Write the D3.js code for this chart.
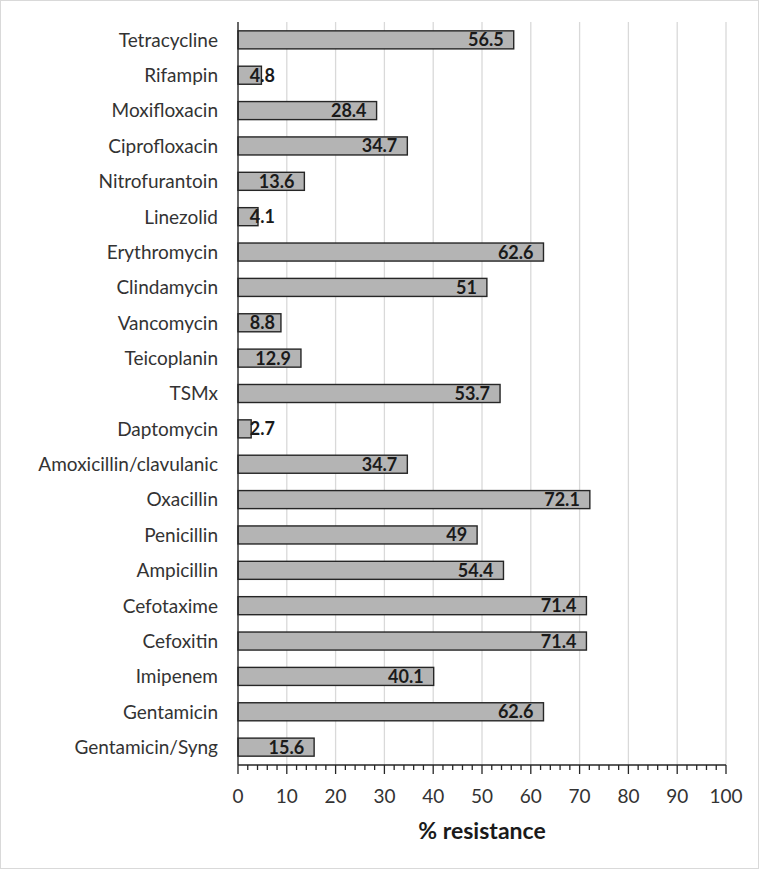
<!DOCTYPE html>
<html>
<head>
<meta charset="utf-8">
<script src="https://cdn.jsdelivr.net/npm/d3@7"></script>
<style>
  body { margin: 0; background: #fff; }
  svg { display: block; font-family: Lato, "Open Sans", sans-serif; }
</style>
</head>
<body>
<script>
// Data (top to bottom)
const drugs = ["Tetracycline", "Rifampin", "Moxifloxacin", "Ciprofloxacin", "Nitrofurantoin",
  "Linezolid", "Erythromycin", "Clindamycin", "Vancomycin", "Teicoplanin", "TSMx",
  "Daptomycin", "Amoxicillin/clavulanic", "Oxacillin", "Penicillin", "Ampicillin",
  "Cefotaxime", "Cefoxitin", "Imipenem", "Gentamicin", "Gentamicin/Syng"];
const resistance = [56.5, 4.8, 28.4, 34.7, 13.6, 4.1, 62.6, 51, 8.8, 12.9, 53.7,
  2.7, 34.7, 72.1, 49, 54.4, 71.4, 71.4, 40.1, 62.6, 15.6];
const xTicks = [0, 10, 20, 30, 40, 50, 60, 70, 80, 90, 100];

const W = 759, H = 869;
const margin = { top: 22, right: 33, bottom: 104, left: 238 };
const width = W - margin.left - margin.right,
      height = H - margin.top - margin.bottom;

const svgRoot = d3.select("body").append("svg")
    .attr("width", W)
    .attr("height", H);

// outer frame
svgRoot.append("rect")
    .attr("x", 0.5).attr("y", 0.5)
    .attr("width", W - 1).attr("height", H - 1)
    .attr("fill", "#fff").attr("stroke", "#d9d9d9");

const svg = svgRoot.append("g")
    .attr("transform", `translate(${margin.left},${margin.top})`);

const x = d3.scaleLinear().domain([0, 100]).range([0, width]);
const y = d3.scaleBand().domain(drugs).range([0, height]).paddingInner(0.49).paddingOuter(0.25);

// gridlines
svg.append("g")
    .selectAll("line")
    .data(xTicks.slice(1))
    .join("line")
    .attr("x1", d => x(d)).attr("x2", d => x(d))
    .attr("y1", 0).attr("y2", height)
    .attr("stroke", "#d9d9d9").attr("stroke-width", 1.3);

const data = drugs.map((d, i) => ({ name: d, value: resistance[i] }));

// bars
svg.append("g")
    .selectAll("rect")
    .data(data)
    .join("rect")
    .attr("x", x(0))
    .attr("y", d => y(d.name))
    .attr("width", d => x(d.value) - x(0))
    .attr("height", y.bandwidth())
    .attr("fill", "#b4b4b4")
    .attr("stroke", "#262626")
    .attr("stroke-width", 1.4);

// value labels (inside end; short bars keep a minimum position)
svg.append("g")
    .selectAll("text")
    .data(data)
    .join("text")
    .attr("x", d => Math.max(x(d.value) - 10, x(0) + 37))
    .attr("y", d => y(d.name) + y.bandwidth() / 2)
    .attr("dy", "0.36em")
    .attr("text-anchor", "end")
    .attr("font-size", 18)
    .attr("font-weight", "bold")
    .attr("fill", "#1a1a1a")
    .text(d => d.value);

// y labels
svg.append("g")
    .selectAll("text")
    .data(drugs)
    .join("text")
    .attr("x", -20)
    .attr("y", d => y(d) + y.bandwidth() / 2)
    .attr("dy", "0.36em")
    .attr("text-anchor", "end")
    .attr("font-size", 19)
    .attr("fill", "#333")
    .text(d => d);

// y axis line
svg.append("line")
    .attr("x1", 0).attr("x2", 0).attr("y1", 0).attr("y2", height)
    .attr("stroke", "#262626").attr("stroke-width", 1.4);

// x axis: minor ticks every 2, major every 10
const minor = d3.range(0, 101, 2);
const xAxis = svg.append("g").attr("transform", `translate(0,${height})`);
xAxis.append("line")
    .attr("x1", 0).attr("x2", width)
    .attr("stroke", "#262626").attr("stroke-width", 1.4);
xAxis.selectAll("line.minor")
    .data(minor)
    .join("line")
    .attr("class", "minor")
    .attr("x1", d => x(d)).attr("x2", d => x(d))
    .attr("y1", 0).attr("y2", d => d % 10 === 0 ? 9 : 5)
    .attr("stroke", "#262626").attr("stroke-width", 1.3);
xAxis.selectAll("text")
    .data(xTicks)
    .join("text")
    .attr("x", d => x(d))
    .attr("y", 38)
    .attr("text-anchor", "middle")
    .attr("font-size", 19)
    .attr("fill", "#333")
    .text(d => d);

svg.append("text")
    .attr("x", width / 2)
    .attr("y", height + 74)
    .attr("text-anchor", "middle")
    .attr("font-size", 23)
    .attr("font-weight", "bold")
    .attr("fill", "#1a1a1a")
    .text("% resistance");
</script>
</body>
</html>
